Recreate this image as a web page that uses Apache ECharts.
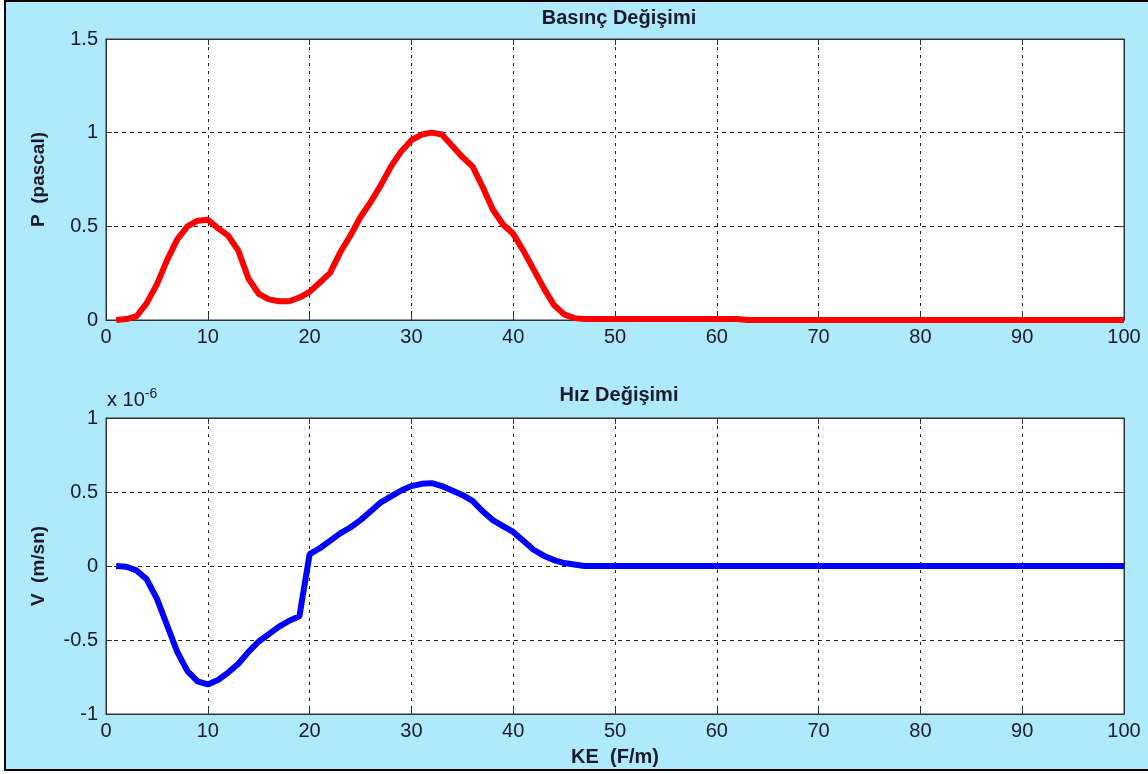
<!DOCTYPE html>
<html><head><meta charset="utf-8">
<script src="https://cdn.jsdelivr.net/npm/echarts@6/dist/echarts.min.js"></script>
<style>html,body{margin:0;padding:0;background:#fff}#c{width:1148px;height:774px}</style>
</head><body><div id="c"></div>
<script>
// KE values (F/m)
const ke = [];
for (let i = 1; i <= 100; i++) ke.push(i);
// Pressure (pascal), x = 1..100
const pressure = [
 0.00,0.005,0.02,0.09,0.19,0.32,0.43,0.50,0.53,0.535,
 0.49,0.45,0.37,0.22,0.14,0.11,0.10,0.10,0.12,0.15,
 0.20,0.25,0.36,0.45,0.55,0.63,0.72,0.82,0.90,0.96,
 0.99,1.00,0.99,0.93,0.87,0.82,0.71,0.59,0.51,0.46,
 0.37,0.27,0.17,0.08,0.03,0.01,0.005,0.005,0.005,0.005,
 0.005,0.005,0.005,0.005,0.005,0.005,0.005,0.005,0.005,0.005,
 0.005,0.005,0,0,0,0,0,0,0,0,
 0,0,0,0,0,0,0,0,0,0,
 0,0,0,0,0,0,0,0,0,0,
 0,0,0,0,0,0,0,0,0,0
];
// Velocity (x 10^-6 m/sn), x = 1..100
const velocity = [
 0.00,-0.005,-0.03,-0.09,-0.22,-0.40,-0.58,-0.71,-0.78,-0.80,
 -0.77,-0.72,-0.66,-0.58,-0.51,-0.46,-0.41,-0.37,-0.34,0.08,
 0.12,0.17,0.22,0.26,0.31,0.37,0.43,0.47,0.51,0.54,
 0.555,0.56,0.54,0.51,0.48,0.44,0.37,0.31,0.27,0.23,
 0.17,0.11,0.07,0.04,0.02,0.01,0,0,0,0,
 0,0,0,0,0,0,0,0,0,0,
 0,0,0,0,0,0,0,0,0,0,
 0,0,0,0,0,0,0,0,0,0,
 0,0,0,0,0,0,0,0,0,0,
 0,0,0,0,0,0,0,0,0,0
];
const titles = ['Basınç Değişimi', 'Hız Değişimi'];
const yNames = ['P  (pascal)', 'V  (m/sn)'];
const xName = 'KE  (F/m)';
const exponentLabel = 'x 10{sup|-6}';

const FONT = '"Liberation Sans", Arial, sans-serif';
const TXT = '#1a1a2a';
const chart = echarts.init(document.getElementById('c'), null, {renderer: 'canvas'});
const grids = [
  {left: 106, right: 24, top: 39, height: 281},
  {left: 106, right: 24, top: 418, height: 296}
];
function xAx(i, name) {
  return {
    type: 'value', gridIndex: i, min: 0, max: 100, interval: 10,
    name: name || '', nameLocation: 'middle', nameGap: 33,
    nameTextStyle: {fontFamily: FONT, fontWeight: 'bold', fontSize: 20, color: TXT},
    axisLine: {show: true, onZero: false, lineStyle: {color: '#333', width: 1}},
    axisTick: {show: true, inside: true, length: 6, lineStyle: {color: '#333'}},
    axisLabel: {fontFamily: FONT, fontSize: 20, color: TXT, margin: 7},
    splitLine: {show: true, lineStyle: {color: '#222', type: [3, 5], width: 1}}
  };
}
function xTop(i) {
  return {
    type: 'value', gridIndex: i, min: 0, max: 100, interval: 10, position: 'top',
    axisLine: {show: true, onZero: false, lineStyle: {color: '#333', width: 1}},
    axisTick: {show: true, inside: true, length: 6, lineStyle: {color: '#333'}},
    axisLabel: {show: false}, splitLine: {show: false}
  };
}
function yAx(i, min, max, interval, name) {
  return {
    type: 'value', gridIndex: i, min: min, max: max, interval: interval,
    name: name, nameLocation: 'middle', nameGap: 58, nameRotate: 90,
    nameTextStyle: {fontFamily: FONT, fontWeight: 'bold', fontSize: 19, color: TXT},
    axisLine: {show: true, onZero: false, lineStyle: {color: '#333', width: 1}},
    axisTick: {show: true, inside: true, length: 6, lineStyle: {color: '#333'}},
    axisLabel: {fontFamily: FONT, fontSize: 20, color: TXT, margin: 8},
    splitLine: {show: true, lineStyle: {color: '#222', type: [4, 4], width: 1}}
  };
}
function yRight(i, min, max, interval) {
  return {
    type: 'value', gridIndex: i, min: min, max: max, interval: interval, position: 'right',
    axisLine: {show: true, onZero: false, lineStyle: {color: '#333', width: 1}},
    axisTick: {show: true, inside: true, length: 6, lineStyle: {color: '#333'}},
    axisLabel: {show: false}, splitLine: {show: false}
  };
}
chart.setOption({
  backgroundColor: '#ffffff',
  animation: false,
  graphic: [
    {type: 'rect', z: -100, silent: true,
     shape: {x: 5, y: 1, width: 1150, height: 769},
     style: {fill: '#aeeafb', stroke: '#000', lineWidth: 2}},
    {type: 'text', z: 100, left: 107, top: 387,
     style: {text: exponentLabel, fontFamily: FONT, fontSize: 20, fill: TXT,
       rich: {sup: {fontSize: 14, verticalAlign: 'top', padding: [0, 0, 12, 0], fontFamily: FONT, fill: TXT}}}}
  ],
  title: [
    {text: titles[0], left: 614, top: 3, textAlign: 'center',
     textStyle: {fontFamily: FONT, fontWeight: 'bold', fontSize: 20, color: TXT}},
    {text: titles[1], left: 614, top: 380, textAlign: 'center',
     textStyle: {fontFamily: FONT, fontWeight: 'bold', fontSize: 20, color: TXT}}
  ],
  grid: grids.map(g => Object.assign({show: true, backgroundColor: '#fff', borderColor: '#333', borderWidth: 1}, g)),
  xAxis: [xAx(0), xAx(1, xName), xTop(0), xTop(1)],
  yAxis: [yAx(0, 0, 1.5, 0.5, yNames[0]), yAx(1, -1, 1, 0.5, yNames[1]),
          yRight(0, 0, 1.5, 0.5), yRight(1, -1, 1, 0.5)],
  series: [
    {type: 'line', xAxisIndex: 0, yAxisIndex: 0, showSymbol: false, symbol: 'none',
     lineStyle: {color: '#ff0000', width: 6}, data: ke.map((x, i) => [x, pressure[i]])},
    {type: 'line', xAxisIndex: 1, yAxisIndex: 1, showSymbol: false, symbol: 'none',
     lineStyle: {color: '#0000ff', width: 6}, data: ke.map((x, i) => [x, velocity[i]])}
  ]
});
</script></body></html>
